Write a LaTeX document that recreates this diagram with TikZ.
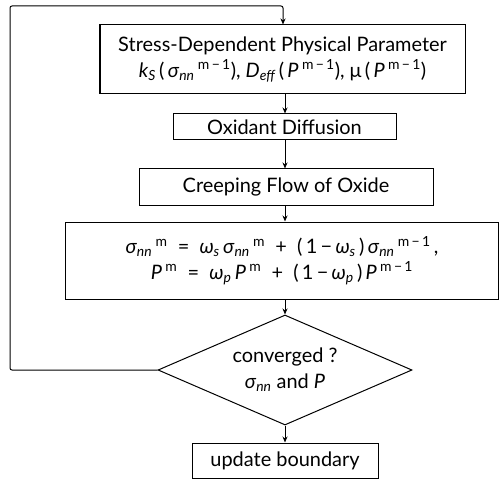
\documentclass[tikz,border=0pt]{standalone}
\usepackage{fontspec}
\setmainfont{Lato}
\usetikzlibrary{arrows.meta,shapes.geometric}
\newcommand\sbs[1]{\textsubscript{\itshape #1}}
\newcommand\sps[1]{\textsuperscript{#1}}
\newcommand\sig{\textit{σ}}
\newcommand\mmo{m\,−\,1}
\begin{document}
\begin{tikzpicture}[x=1bp,y=-1bp,
  every node/.style={font=\fontsize{20}{26}\selectfont},
  procbox/.style={draw,line width=1bp,inner sep=0pt,align=center},
  decision/.style={draw,line width=1bp,diamond,shape aspect=2.3,inner sep=0pt,align=center},
  flow/.style={line width=1bp,-{Stealth[length=6bp,width=5bp]}}]
\useasboundingbox (0,0) rectangle (504,480);
\node[procbox,minimum width=365bp,minimum height=69bp] (param) at (282.5,59.5)
  {Stress-Dependent Physical Parameter\\
   \textit{k}\sbs{S}\,(\,\sig\sbs{nn}\,\sps{\mmo}), \textit{D}\sbs{eff}\,(\,\textit{P}\,\sps{\mmo}), μ\,(\,\textit{P}\,\sps{\mmo})};
\node[procbox,minimum width=223bp,minimum height=26bp] (diff) at (284.5,127) {Oxidant Diffusion};
\node[procbox,minimum width=294bp,minimum height=36bp] (creep) at (286,187) {Creeping Flow of Oxide};
\node[procbox,minimum width=433bp,minimum height=77bp] (relax) at (282,260.5)
  {\sig\sbs{nn}\,\sps{m}\ \ =\ \ \textit{ω}\sbs{s}\,\sig\sbs{nn}\,\sps{m}\ \ +\ \ (\,1\,−\,\textit{ω}\sbs{s}\,)\,\sig\sbs{nn}\,\sps{\mmo}\,,\\
   \textit{P}\,\sps{m}\ \ =\ \ \textit{ω}\sbs{p}\,\textit{P}\,\sps{m}\ \ +\ \ (\,1\,−\,\textit{ω}\sbs{p}\,)\,\textit{P}\,\sps{\mmo}};
\node[decision,minimum width=254bp,minimum height=110bp] (conv) at (285,370)
  {converged ?\\ \sig\sbs{nn} and \textit{P}};
\node[procbox,minimum width=186bp,minimum height=35bp] (upd) at (285,460.5) {update boundary};
\coordinate (col) at (285,0);
\coordinate (fbl) at (10,370);
\coordinate (fbt) at (10,6);
\coordinate (fbr) at (283,6);
\draw[flow] (param.south -| col) -- (diff.north -| col);
\draw[flow] (diff.south -| col) -- (creep.north -| col);
\draw[flow] (creep.south -| col) -- (relax.north -| col);
\draw[flow] (relax.south -| col) -- (conv.north);
\draw[flow] (conv.south) -- (upd.north -| col);
\draw[flow,rounded corners=2bp] (conv.west) -- (fbl) -- (fbt) -- (fbr) -- (param.north -| fbr);
\end{tikzpicture}
\end{document}
